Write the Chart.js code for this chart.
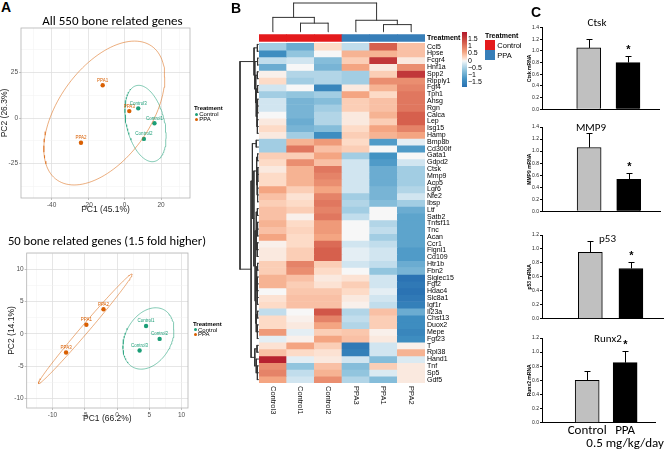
<!DOCTYPE html>
<html>
<head>
<meta charset="utf-8">
<title>PPA bone related genes</title>
<script src="https://cdn.jsdelivr.net/npm/chart.js@4.4.1/dist/chart.umd.min.js"></script>
<style>
  body { margin: 0; background: #fff; }
  #fig { position: relative; width: 667px; height: 450px; overflow: hidden; background: #fff;
         font-family: "Liberation Sans", Arial, sans-serif; color: #000; }
  #fig canvas { position: absolute; }
  .t { position: absolute; white-space: nowrap; line-height: 1; }
  .l { transform: translateY(-50%); }
  .c { transform: translate(-50%, -50%); }
  .sw { position: absolute; }
</style>
</head>
<body>
<div id="fig"></div>
<script>
// ---------- data ----------
const samples = ['Control3', 'Control1', 'Control2', 'PPA3', 'PPA1', 'PPA2'];
const sampleGroup = ['Control', 'Control', 'Control', 'PPA', 'PPA', 'PPA'];
const genes = ['Ccl5', 'Hpse', 'Fcgr4', 'Hnf1a', 'Spp2', 'Ripply1', 'Fgf4', 'Tph1', 'Ahsg', 'Rgn',
  'Calca', 'Lep', 'Isg15', 'Hamp', 'Bmp8b', 'Cd300lf', 'Gata1', 'Gdpd2', 'Ctsk', 'Mmp9',
  'Acp5', 'Lgr6', 'Nfe2', 'Ibsp', 'Ltf', 'Satb2', 'Tnfsf11', 'Tnc', 'Acan', 'Ccr1',
  'Fignl1', 'Cd109', 'Htr1b', 'Fbn2', 'Siglec15', 'Fgf2', 'Hdac4', 'Slc8a1', 'Igf1r', 'Il23a',
  'Chst13', 'Duox2', 'Mepe', 'Fgf23', 'T', 'Rpl38', 'Hand1', 'Tnf', 'Sp5', 'Gdf5'];
// row z-scores, columns in the order of samples
const heatValues = [
  [-0.5, -0.9, 0.2, -0.3, 1.2, 0.4],
  [-1.3, -0.6, 0.0, 0.5, 0.5, 0.4],
  [-0.3, -0.2, -0.7, 0.3, 1.6, 0.1],
  [-0.9, 0.0, -0.8, 0.6, 0.1, 0.8],
  [0.05, -0.4, -0.4, -0.5, 0.3, 1.6],
  [0.2, -0.5, -0.4, -0.5, 0.8, 0.8],
  [-0.2, 0.0, -1.4, 0.1, 0.5, 0.9],
  [-0.5, -0.6, -0.5, 0.6, 0.2, 1.0],
  [-0.2, -0.8, -0.7, 0.3, 0.4, 1.0],
  [-0.2, -0.8, -0.5, 0.3, 0.4, 1.0],
  [0.0, -0.8, -0.4, 0.1, 0.5, 1.2],
  [0.1, -0.9, -0.4, 0.1, 0.3, 1.2],
  [0.2, -0.8, -0.7, 0.2, 0.6, 0.9],
  [0.1, -0.5, -1.3, 0.3, 0.5, 0.6],
  [-0.5, 0.5, 0.7, 0.2, -1.1, -0.1],
  [-0.5, 1.0, 0.4, 0.3, 0.0, -1.1],
  [0.3, 0.3, 0.6, -0.5, -1.2, 0.0],
  [0.2, 0.8, 0.4, -0.2, -1.1, -0.2],
  [0.1, 0.5, 1.0, -0.2, -0.9, -0.5],
  [0.2, 0.5, 0.9, -0.2, -0.9, -0.5],
  [0.2, 0.5, 0.8, -0.2, -0.9, -0.5],
  [0.6, 0.3, 0.6, -0.2, -0.8, -0.4],
  [0.4, 0.15, 0.9, -0.5, -0.8, -0.2],
  [0.3, 0.2, 1.0, -0.4, -0.7, -0.5],
  [0.4, 0.3, 0.9, -0.5, 0.0, -0.9],
  [0.4, 0.05, 1.0, -0.3, 0.0, -1.0],
  [0.5, 0.2, 0.7, 0.0, -0.4, -1.0],
  [0.4, 0.25, 0.7, 0.0, -0.3, -1.0],
  [0.6, 0.2, 0.6, 0.0, -0.5, -1.0],
  [0.05, 0.2, 1.1, -0.2, -0.3, -1.0],
  [0.1, 0.3, 1.2, -0.1, -0.2, -1.1],
  [0.1, 0.3, 1.2, -0.1, -0.2, -1.1],
  [0.3, 0.9, 0.3, -0.2, -0.3, -0.9],
  [0.3, 0.8, 0.2, 0.0, -0.6, -0.8],
  [0.5, 0.4, 0.1, 0.15, -0.2, -1.7],
  [0.5, 0.3, 0.15, 0.3, -0.2, -1.6],
  [0.0, 0.35, 0.35, 0.2, -0.1, -1.7],
  [0.15, 0.4, 0.4, 0.1, -0.2, -1.6],
  [0.2, 0.4, 0.4, 0.05, -0.3, -1.5],
  [-0.3, 0.0, 1.3, -0.4, 0.4, -0.9],
  [0.2, 0.05, 0.9, -0.3, 0.3, -1.3],
  [0.2, 0.1, 0.6, -0.4, 0.3, -1.3],
  [0.7, -0.1, 0.3, 0.35, 0.05, -1.4],
  [-0.1, 0.05, 0.6, 0.4, 0.1, -1.3],
  [0.15, 0.6, 0.3, -1.6, -0.2, 0.05],
  [0.4, 0.2, 0.15, -1.5, -0.2, 0.5],
  [1.8, -0.1, 0.1, -0.2, -0.7, -0.15],
  [0.8, -0.6, 0.4, -0.7, 0.3, 0.1],
  [0.9, -0.3, 0.5, -0.6, -0.15, 0.1],
  [0.6, -0.2, 0.8, -0.4, -0.7, 0.1]
];
const heatLegendTicks = [1.5, 1, 0.5, 0, -0.5, -1, -1.5];

// dendrograms: [height, child, child...], leaves are row / column indexes
const colTree = [1.0, [0.5, 0, [0.3, 1, 2]], [0.4, 3, [0.25, 4, 5]]];
const rowTree = [1.0,
  [0.24, [0.06, 0, 1], [0.2, [0.05, 2, 3], [0.15, [0.06, 4, 5], [0.12, [0.05, 6, 7], [0.08, [0.05, 8, 9, 10], [0.06, 11, 12, 13]]]]]],
  [0.4,
    [0.33, [0.12, 14, 15],
      [0.25,
        [0.1, [0.05, 16, 17], [0.07, [0.04, 18, 19, 20], [0.05, 21, 22, 23]]],
        [0.18, [0.12, [0.06, 24, 25], [0.05, 26, 27, 28], [0.07, 29, 30, 31]],
          [0.14, [0.1, [0.05, 32, 33], [0.06, 34, 35, 36, 37, 38]], [0.12, [0.05, 39, 40], [0.06, 41, 42, 43]]]]]],
    [0.2, [0.08, 44, 45], [0.12, 46, [0.06, 47, 48, 49]]]]];

// PCA scores
const pcaAllCtrl = [[7.5, 5.3], [16.4, -2.9], [10.6, -11.5]];
const pcaAllCtrlNames = ['Control3', 'Control1', 'Control2'];
const pcaAllPpa = [[-12, 18], [-23.9, -13.6], [2.6, 3.8]];
const pcaAllPpaNames = ['PPA1', 'PPA2', 'PPA3'];
const pcaAllXTicks = [-40, -20, 0, 20];
const pcaAllYTicks = [-25, 0, 25];

const pca50Ctrl = [[4.5, 1.2], [6.6, -0.8], [3.5, -2.6]];
const pca50CtrlNames = ['Control1', 'Control2', 'Control3'];
const pca50Ppa = [[-7.9, -2.9], [-4.75, 1.4], [-2.1, 3.8]];
const pca50PpaNames = ['PPA3', 'PPA1', 'PPA2'];
const pca50XTicks = [-10, -5, 0, 5, 10];
const pca50YTicks = [-10, -5, 0, 5, 10];

// qPCR, relative mRNA
const barGroups = ['Control', 'PPA'];
const doseLabel = '0.5 mg/kg/day';
const ctskMean = [1.05, 0.80];
const ctskErr = [0.15, 0.12];
const mmp9Mean = [1.06, 0.53];
const mmp9Err = [0.24, 0.11];
const p53Mean = [0.95, 0.72];
const p53Err = [0.17, 0.10];
const runx2Mean = [0.60, 0.85];
const runx2Err = [0.13, 0.16];

// ---------- styles ----------
const CTRL = '#1b9e77', PPA = '#d95f02';
const CTRL_LINE = 'rgba(27,158,119,0.55)', PPA_LINE = 'rgba(217,95,2,0.5)';
const treatColor = { Control: '#e41a1c', PPA: '#377eb8' };
const ELLIPSE_K = 2.5;
const ANNOT = [-1.35, -0.3];
const heatStops = [[-1.9, '#2166ac'], [-1.2, '#4393c3'], [-0.6, '#92c5de'], [-0.2, '#d1e5f0'], [0, '#f7f7f7'],
  [0.2, '#fddbc7'], [0.6, '#f4a582'], [1.2, '#d6604d'], [1.9, '#b2182b']];
const ARIAL = '"Liberation Sans", Arial, sans-serif';
const CALIBRI = 'Carlito, Lato, sans-serif';

Chart.defaults.font.family = ARIAL;
Chart.defaults.animation = false;
Chart.defaults.responsive = false;
Chart.defaults.events = [];
Chart.defaults.layout.autoPadding = false;
Chart.defaults.plugins.legend.display = false;
Chart.defaults.plugins.tooltip.enabled = false;

const fig = document.getElementById('fig');

function canvasAt(left, top, w, h) {
  const c = document.createElement('canvas');
  c.width = w; c.height = h;
  c.style.left = left + 'px'; c.style.top = top + 'px';
  c.style.width = w + 'px'; c.style.height = h + 'px';
  fig.appendChild(c);
  return c;
}
function txt(str, x, y, font, anchor, color) {
  const d = document.createElement('div');
  d.className = 't ' + (anchor || 'l');
  d.textContent = str;
  d.style.left = x + 'px'; d.style.top = y + 'px';
  d.style.font = font;
  if (color) d.style.color = color;
  fig.appendChild(d);
}
function swatch(x, y, w, h, bg, round) {
  const d = document.createElement('div');
  d.className = 'sw';
  d.style.cssText = `left:${x}px;top:${y}px;width:${w}px;height:${h}px;background:${bg};` + (round ? 'border-radius:50%;' : '');
  fig.appendChild(d);
}

const hex = h => [1, 3, 5].map(i => parseInt(h.slice(i, i + 2), 16));
function heatColor(v) {
  v = Math.max(heatStops[0][0], Math.min(heatStops[heatStops.length - 1][0], v));
  for (let i = 1; i < heatStops.length; i++) {
    if (v <= heatStops[i][0]) {
      const [v0, c0] = heatStops[i - 1], [v1, c1] = heatStops[i];
      const t = (v - v0) / (v1 - v0), a = hex(c0), b = hex(c1);
      return 'rgb(' + a.map((x, k) => Math.round(x + (b[k] - x) * t)).join(',') + ')';
    }
  }
}

// ---------- PCA panels ----------
function ellipse(pts) {
  const n = pts.length;
  const mx = pts.reduce((s, p) => s + p[0], 0) / n, my = pts.reduce((s, p) => s + p[1], 0) / n;
  let sxx = 0, syy = 0, sxy = 0;
  pts.forEach(([x, y]) => { sxx += (x - mx) ** 2; syy += (y - my) ** 2; sxy += (x - mx) * (y - my); });
  sxx /= n - 1; syy /= n - 1; sxy /= n - 1;
  const a = Math.sqrt(sxx), b = sxy / a, c = Math.sqrt(Math.max(syy - b * b, 0));
  const out = [];
  for (let i = 0; i <= 120; i++) {
    const t = i / 120 * 2 * Math.PI;
    out.push({ x: mx + ELLIPSE_K * a * Math.cos(t), y: my + ELLIPSE_K * (b * Math.cos(t) + c * Math.sin(t)) });
  }
  return out;
}
function withMinors(majors, lo, hi) {
  const step = majors[1] - majors[0], out = [];
  majors.forEach(v => out.push(v - step / 2, v));
  out.push(majors[majors.length - 1] + step / 2);
  return out.filter(v => v >= lo && v <= hi);
}

const pointLabels = {
  id: 'pointLabels',
  afterDatasetsDraw(chart) {
    const ctx = chart.ctx;
    ctx.save();
    ctx.font = '4.5px ' + ARIAL;
    ctx.textAlign = 'center';
    ctx.textBaseline = 'bottom';
    chart.data.datasets.forEach((ds, di) => {
      if (!ds.names) return;
      chart.getDatasetMeta(di).data.forEach((pt, i) => {
        ctx.fillStyle = ds.backgroundColor;
        ctx.fillText(ds.names[i], pt.x, pt.y - 2.5);
      });
    });
    ctx.restore();
  }
};
const panelBorder = {
  id: 'panelBorder',
  beforeDatasetsDraw(chart) {
    const { ctx, chartArea: a } = chart;
    ctx.save();
    ctx.strokeStyle = '#b3b3b3';
    ctx.lineWidth = 0.8;
    ctx.strokeRect(a.left, a.top, a.right - a.left, a.bottom - a.top);
    ctx.restore();
  }
};

function pcaAxis(majors, range, title, fit, titlePad) {
  const major = ctx => ctx.tick && majors.includes(ctx.tick.value);
  return {
    type: 'linear', min: range[0], max: range[1],
    afterBuildTicks: s => { s.ticks = withMinors(majors, range[0], range[1]).map(v => ({ value: v })); },
    afterFit: fit,
    border: { display: false },
    grid: {
      color: ctx => major(ctx) ? '#e0e0e0' : '#f0f0f0',
      lineWidth: ctx => major(ctx) ? 0.8 : 0.5,
      tickColor: ctx => major(ctx) ? '#b3b3b3' : 'rgba(0,0,0,0)',
      tickLength: 2
    },
    ticks: { autoSkip: false, maxRotation: 0, padding: 1, color: '#4d4d4d', font: { size: 6.5 },
      callback: v => majors.includes(v) ? String(v) : '' },
    title: { display: true, text: title, color: '#1a1a1a', font: { size: 8.5 }, padding: titlePad }
  };
}

function pcaChart(c, o) {
  return new Chart(c, {
    type: 'scatter',
    data: {
      datasets: [
        { data: ellipse(o.ppa), showLine: true, pointRadius: 0, borderColor: PPA_LINE, borderWidth: 1 },
        { data: ellipse(o.ctrl), showLine: true, pointRadius: 0, borderColor: CTRL_LINE, borderWidth: 1 },
        { data: o.ppa.map(([x, y]) => ({ x, y })), names: o.ppaNames, pointRadius: 2.2, backgroundColor: PPA, borderWidth: 0 },
        { data: o.ctrl.map(([x, y]) => ({ x, y })), names: o.ctrlNames, pointRadius: 2.2, backgroundColor: CTRL, borderWidth: 0 }
      ]
    },
    options: {
      layout: { padding: o.pad },
      scales: {
        x: pcaAxis(o.xTicks, o.xRange, o.xTitle, s => { s.height = o.xH; }, { top: 0, bottom: o.xTitlePad }),
        y: pcaAxis(o.yTicks, o.yRange, o.yTitle, s => { s.width = o.yW; }, { top: o.yTitlePad, bottom: 0 })
      }
    },
    plugins: [panelBorder, pointLabels]
  });
}

pcaChart(canvasAt(0, 20, 230, 200), {
  ctrl: pcaAllCtrl, ctrlNames: pcaAllCtrlNames, ppa: pcaAllPpa, ppaNames: pcaAllPpaNames,
  xTicks: pcaAllXTicks, yTicks: pcaAllYTicks, xRange: [-56.8, 35.9], yRange: [-44, 49.5],
  xTitle: 'PC1 (45.1%)', yTitle: 'PC2 (26.3%)',
  pad: { top: 8, right: 40, left: 0, bottom: 0 }, xH: 22, yW: 21, xTitlePad: 5, yTitlePad: 0
});
pcaChart(canvasAt(0, 245, 230, 185), {
  ctrl: pca50Ctrl, ctrlNames: pca50CtrlNames, ppa: pca50Ppa, ppaNames: pca50PpaNames,
  xTicks: pca50XTicks, yTicks: pca50YTicks, xRange: [-14, 11], yRange: [-11.5, 12.5],
  xTitle: 'PC1 (66.2%)', yTitle: 'PC2 (14.1%)',
  pad: { top: 8, right: 42, left: 0, bottom: 0 }, xH: 22, yW: 26.7, xTitlePad: 6, yTitlePad: 7
});

// ---------- heatmap + dendrograms ----------
function treeSegments(node, out) {
  if (typeof node === 'number') return { pos: node + 0.5, h: 0 };
  const [h, ...kids] = node;
  const ks = kids.map(k => treeSegments(k, out));
  ks.forEach(k => out.push([k.h, k.pos, h, k.pos]));
  out.push([h, ks[0].pos, h, ks[ks.length - 1].pos]);
  return { pos: (ks[0].pos + ks[ks.length - 1].pos) / 2, h };
}
function treePoints(tree, horizontal) {
  const segs = [], pts = [];
  treeSegments(tree, segs);
  segs.forEach(([h1, p1, h2, p2]) => {
    if (horizontal) pts.push({ x: h1, y: p1 }, { x: h2, y: p2 });
    else pts.push({ x: p1, y: h1 }, { x: p2, y: h2 });
    pts.push({ x: NaN, y: NaN });
  });
  return pts;
}
function dendroChart(c, pts, xs, ys, pad) {
  return new Chart(c, {
    type: 'scatter',
    data: { datasets: [{ data: pts, showLine: true, spanGaps: false, pointRadius: 0, borderColor: '#333',
      borderWidth: 1, borderCapStyle: 'square', clip: false }] },
    options: {
      layout: { padding: pad },
      scales: { x: Object.assign({ type: 'linear', display: false }, xs), y: Object.assign({ type: 'linear', display: false }, ys) }
    }
  });
}

dendroChart(canvasAt(255, 0, 175, 34), treePoints(colTree, false),
  { min: 0, max: samples.length }, { min: 0, max: 1 }, { left: 4, right: 5, top: 3, bottom: 2.2 });
dendroChart(canvasAt(236, 28, 24, 390), treePoints(rowTree, true),
  { min: 0, max: 1, reverse: true }, { min: ANNOT[0], max: genes.length, reverse: true },
  { left: 4, right: 1.5, top: 3.8, bottom: 35 });

const colLabels = {
  id: 'colLabels',
  afterDraw(chart) {
    const { ctx, chartArea, scales: { x } } = chart;
    ctx.save();
    ctx.font = '7.5px ' + ARIAL;
    ctx.fillStyle = '#111';
    ctx.textBaseline = 'middle';
    samples.forEach((s, i) => {
      ctx.save();
      ctx.translate(x.getPixelForValue(i), chartArea.bottom + 3);
      ctx.rotate(Math.PI / 2);
      ctx.fillText(s, 0, 0);
      ctx.restore();
    });
    ctx.restore();
  }
};

new Chart(canvasAt(255, 28, 210, 390), {
  type: 'bar',
  data: {
    labels: samples,
    datasets: [{ label: 'Treatment', data: samples.map(() => ANNOT), backgroundColor: sampleGroup.map(g => treatColor[g]) }]
      .concat(genes.map((g, i) => ({ label: g, data: samples.map(() => [i, i + 1]), backgroundColor: heatValues[i].map(heatColor) })))
  },
  options: {
    layout: { padding: { left: 4, top: 3.8, right: 0, bottom: 35 } },
    datasets: { bar: { grouped: false, barPercentage: 1, categoryPercentage: 1, borderWidth: 0 } },
    scales: {
      x: { display: false },
      y: {
        type: 'linear', min: ANNOT[0], max: genes.length, reverse: true, position: 'right',
        grid: { display: false, drawTicks: false }, border: { display: false },
        afterBuildTicks: s => { s.ticks = [{ value: (ANNOT[0] + ANNOT[1]) / 2 }].concat(genes.map((g, i) => ({ value: i + 0.5 }))); },
        afterFit: s => { s.width = 40; },
        ticks: {
          autoSkip: false, padding: 2, color: '#000',
          font: ctx => ({ size: 7, weight: ctx.tick && ctx.tick.value < 0 ? 'bold' : 'normal' }),
          callback: v => v < 0 ? 'Treatment' : genes[Math.floor(v)]
        }
      }
    }
  },
  plugins: [colLabels]
});

// ---------- qPCR bars ----------
const errBars = {
  id: 'errBars',
  afterDatasetsDraw(chart, args, o) {
    const { ctx, scales: { x, y } } = chart;
    ctx.save();
    ctx.strokeStyle = '#000'; ctx.fillStyle = '#000'; ctx.lineWidth = 1;
    o.mean.forEach((m, i) => {
      const px = Math.round(x.getPixelForValue(i)) + 0.5;
      const y0 = y.getPixelForValue(m), y1 = Math.round(y.getPixelForValue(m + o.err[i])) + 0.5;
      ctx.beginPath();
      ctx.moveTo(px, y0); ctx.lineTo(px, y1);
      ctx.moveTo(px - 3, y1); ctx.lineTo(px + 3, y1);
      ctx.stroke();
      if (i === o.star) {
        ctx.font = 'bold 11px ' + ARIAL;
        ctx.textAlign = 'center'; ctx.textBaseline = 'middle';
        ctx.fillText('*', px, y1 - 7);
      }
    });
    ctx.restore();
  }
};

function barChart(c, o) {
  return new Chart(c, {
    type: 'bar',
    data: { datasets: [{ data: o.mean.map((m, i) => ({ x: i, y: m })), backgroundColor: ['#c0c0c0', '#000000'],
      borderColor: '#000', borderWidth: 1, barThickness: 24 }] },
    options: {
      layout: { padding: { top: o.padTop, right: o.padRight, left: 0, bottom: 0 } },
      plugins: { errBars: { mean: o.mean, err: o.err, star: 1 } },
      scales: {
        x: {
          type: 'linear', offset: false, min: -1.19, max: 1.79,
          afterFit: s => { s.height = o.xH; },
          afterBuildTicks: s => { s.ticks = barGroups.map((g, i) => ({ value: i })); },
          border: { color: '#000', width: 1 }, grid: { display: false, drawTicks: false },
          ticks: { display: !!o.xLabels, autoSkip: false, maxRotation: 0, padding: 2, color: '#000',
            font: { family: CALIBRI, size: 13, lineHeight: 1.0 }, callback: v => o.xLabels ? o.xLabels[v] : '' }
        },
        y: {
          min: 0, max: o.yMax,
          afterFit: s => { s.width = 27; },
          border: { color: '#000', width: 1 },
          grid: { drawOnChartArea: false, tickLength: 2, color: '#000' },
          ticks: { stepSize: 0.2, padding: 1, color: '#222', font: { size: 5 }, callback: v => v.toFixed(1) },
          title: { display: true, text: o.yTitle, color: '#000', font: { size: 5, weight: 'bold' }, padding: { top: 12, bottom: 0 } }
        }
      }
    },
    plugins: [errBars]
  });
}

barChart(canvasAt(515, 15, 152, 100), { mean: ctskMean, err: ctskErr, yMax: 1.4, yTitle: 'Ctsk mRNA', padTop: 12.5, padRight: 8, xH: 5.7 });
barChart(canvasAt(515, 118, 152, 98), { mean: mmp9Mean, err: mmp9Err, yMax: 1.4, yTitle: 'MMP9 mRNA', padTop: 9, padRight: 7, xH: 4.7 });
barChart(canvasAt(515, 226, 152, 97), { mean: p53Mean, err: p53Err, yMax: 1.2, yTitle: 'p53 mRNA', padTop: 9, padRight: 4, xH: 4.3 });
barChart(canvasAt(515, 329, 152, 121), { mean: runx2Mean, err: runx2Err, yMax: 1.2, yTitle: 'Runx2 mRNA', padTop: 9, padRight: 4, xH: 27.3,
  xLabels: [barGroups[0], [barGroups[1], doseLabel]] });

// ---------- text, legends ----------
txt('A', 1, 7, 'bold 14px ' + ARIAL);
txt('B', 231, 8, 'bold 14px ' + ARIAL);
txt('C', 531, 12, 'bold 14px ' + ARIAL);

txt('All 550 bone related genes', 112.5, 20, '13px ' + CALIBRI, 'c');
txt('50 bone related genes (1.5 fold higher)', 107, 240, '12.6px ' + CALIBRI, 'c');

[[194, 107.7, 196.2, 114.2, 119], [193, 323.7, 195, 329.5, 334]].forEach(([tx, ty, dx, cy, py]) => {
  txt('Treatment', tx, ty, 'bold 6px ' + ARIAL);
  swatch(dx - 1.5, cy - 1.5, 3, 3, CTRL, true);
  txt('Control', dx + 3, cy, '6px ' + ARIAL);
  swatch(dx - 1.5, py - 1.5, 3, 3, PPA, true);
  txt('PPA', dx + 3, py, '6px ' + ARIAL);
});

// heatmap colour key
const keyY = v => 59.5 - v * 14.2;
const grad = [];
for (let v = 1.93; v >= -1.93; v -= 0.193) grad.push(heatColor(v));
swatch(462, keyY(1.93), 4.5, keyY(-1.93) - keyY(1.93), 'linear-gradient(to bottom,' + grad.join(',') + ')');
heatLegendTicks.forEach(v => txt(String(v).replace('-', '\u2212'), 468, keyY(v), '7px ' + ARIAL));

txt('Treatment', 485, 34.7, 'bold 7px ' + ARIAL);
swatch(485, 40.3, 10.4, 9.7, treatColor.Control);
swatch(485, 50, 10.4, 9.7, treatColor.PPA);
txt('Control', 497.3, 45, '7.5px ' + ARIAL);
txt('PPA', 497.3, 54.7, '7.5px ' + ARIAL);

txt('Ctsk', 597, 21.7, '11px ' + CALIBRI, 'c');
txt('MMP9', 591, 126.5, '11px ' + CALIBRI, 'c');
txt('p53', 607.5, 237.5, '11px ' + CALIBRI, 'c');
txt('Runx2', 608, 337.5, '11px ' + CALIBRI, 'c');
</script>
</body>
</html>
